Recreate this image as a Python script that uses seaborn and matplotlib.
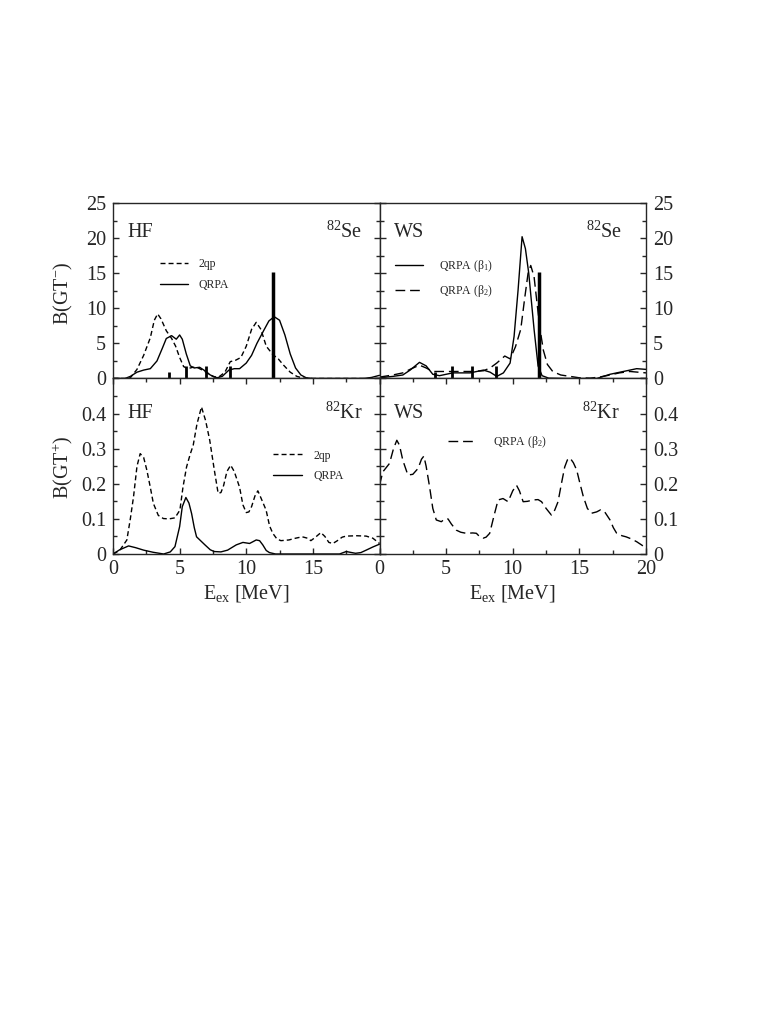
import matplotlib
matplotlib.use("Agg")
import matplotlib.pyplot as plt
from matplotlib.ticker import MultipleLocator
import seaborn as sns

# --- data -------------------------------------------------------------------
# HF, 82Se, B(GT-)
hf_se_2qp_x = [0, 1.0, 1.3, 1.8, 2.3, 2.8, 3.1, 3.35, 3.6, 4.0, 4.4, 4.7, 5.0, 5.3, 5.6, 6.0,
               6.4, 6.9, 7.3, 7.6, 8.0, 8.4, 8.8, 9.2, 9.6, 10.0, 10.4, 10.75, 11.1, 11.5,
               12.0, 12.4, 12.8, 13.3, 13.8, 14.3, 15.0, 20.0]
hf_se_2qp_y = [0, 0.0, 0.1, 1.3, 3.3, 5.8, 8.3, 9.2, 8.5, 6.8, 5.7, 4.6, 3.0, 1.7, 1.4, 1.6,
               1.5, 1.0, 0.5, 0.2, 0.3, 0.9, 2.4, 2.6, 3.0, 4.6, 7.0, 8.0, 7.0, 4.6,
               3.4, 2.8, 1.9, 0.9, 0.3, 0.05, 0, 0]
hf_se_qrpa_x = [0, 0.9, 1.3, 1.8, 2.3, 2.8, 3.3, 3.7, 4.0, 4.4, 4.75, 5.0, 5.2, 5.5, 5.8, 6.1,
                6.5, 6.9, 7.3, 7.8, 8.2, 8.7, 9.1, 9.5, 10.0, 10.4, 10.8, 11.3, 11.7, 12.1,
                12.5, 12.9, 13.3, 13.7, 14.1, 14.5, 15.0, 18.8, 19.4, 20.0]
hf_se_qrpa_y = [0, 0, 0.3, 0.9, 1.2, 1.4, 2.5, 4.3, 5.7, 6.1, 5.6, 6.2, 5.6, 3.5, 1.8, 1.5,
                1.6, 1.1, 0.5, 0.1, 0.3, 1.2, 1.4, 1.4, 2.2, 3.3, 5.0, 6.8, 8.2, 8.8,
                8.3, 6.2, 3.5, 1.5, 0.5, 0.1, 0, 0, 0.15, 0.45]

# experimental strength (bars)
exp_x = [4.2, 5.45, 6.95, 8.75, 12.0]
exp_y = [0.9, 1.8, 1.8, 1.8, 15.2]

# WS, 82Se, B(GT-)
ws_se_b1_x = [0, 1.0, 1.75, 2.3, 3.0, 3.5, 4.0, 4.5, 5.0, 5.5, 6.2, 6.8, 7.3, 7.8, 8.3, 8.8,
              9.3, 9.8, 10.1, 10.4, 10.7, 10.95, 11.2, 11.6, 11.9, 12.2, 12.7, 14.0, 16.3,
              17.3, 18.3, 19.3, 20.0]
ws_se_b1_y = [0.1, 0.3, 0.5, 1.2, 2.3, 1.8, 0.6, 0.4, 0.6, 0.8, 0.8, 0.8, 1.0, 1.2, 0.9, 0.3,
              0.8, 2.2, 6.0, 12.6, 20.2, 18.5, 15.0, 7.0, 1.8, 0.4, 0.05, 0, 0,
              0.6, 1.0, 1.4, 1.3]
ws_se_b2_x = [0, 1.0, 1.75, 2.4, 3.0, 3.5, 4.0, 5.3, 6.8, 7.8, 8.3, 8.8, 9.4, 9.8, 10.2, 10.6,
              10.9, 11.15, 11.35, 11.6, 11.8, 12.05, 12.3, 12.6, 13.0, 13.6, 14.3, 15.0,
              15.8, 16.5, 17.3, 18.0, 18.8, 19.4, 20.0]
ws_se_b2_y = [0.2, 0.5, 0.8, 1.4, 1.9, 1.5, 1.0, 1.0, 1.0, 1.1, 1.5, 2.2, 3.2, 2.8, 4.5, 7.0,
              11.5, 15.0, 16.1, 14.5, 11.1, 7.0, 4.0, 2.0, 1.0, 0.5, 0.3, 0.1,
              0.05, 0.2, 0.5, 0.8, 1.0, 0.9, 0.8]

# HF, 82Kr, B(GT+)
hf_kr_2qp_x = [0, 0.5, 1.04, 1.3, 1.54, 1.8, 2.04, 2.3, 2.54, 2.8, 3.03, 3.4, 3.78, 4.2, 4.65,
               5.02, 5.25, 5.52, 5.8, 6.02, 6.3, 6.64, 6.95, 7.26, 7.6, 7.89, 8.1, 8.3, 8.55,
               8.83, 9.1, 9.5, 9.75, 10.0, 10.2, 10.4, 10.65, 10.87, 11.1, 11.49, 11.75,
               11.99, 12.3, 12.6, 13.2, 13.7, 14.2, 14.6, 14.85, 15.2, 15.6, 15.9, 16.2,
               16.5, 16.8, 17.2, 17.5, 18.3, 19.0, 19.5, 20.0]
hf_kr_2qp_y = [0, 0.01, 0.04, 0.1, 0.163, 0.25, 0.286, 0.275, 0.239, 0.19, 0.144, 0.11, 0.101,
               0.1, 0.103, 0.125, 0.19, 0.248, 0.285, 0.31, 0.37, 0.419, 0.38, 0.324, 0.24,
               0.173, 0.175, 0.195, 0.235, 0.253, 0.235, 0.19, 0.14, 0.118, 0.12, 0.135,
               0.165, 0.18, 0.16, 0.125, 0.08, 0.059, 0.043, 0.038, 0.04, 0.045, 0.049,
               0.045, 0.038, 0.048, 0.061, 0.05, 0.033, 0.03, 0.037, 0.048, 0.051, 0.052,
               0.051, 0.045, 0.03]
hf_kr_qrpa_x = [0, 0.5, 1.17, 1.7, 2.3, 3.0, 3.8, 4.3, 4.65, 5.0, 5.2, 5.47, 5.7, 5.9, 6.1,
                6.27, 6.9, 7.3, 7.6, 8.1, 8.6, 9.25, 9.75, 10.25, 10.75, 11.0, 11.24, 11.5,
                11.74, 12.2, 17.0, 17.5, 18.2, 18.6, 19.0, 19.5, 20.0]
hf_kr_qrpa_y = [0, 0.012, 0.023, 0.018, 0.011, 0.005, 0.0, 0.006, 0.021, 0.078, 0.135, 0.161,
                0.145, 0.115, 0.075, 0.049, 0.026, 0.012, 0.007, 0.006, 0.011, 0.026, 0.033,
                0.03, 0.04, 0.038, 0.026, 0.01, 0.004, 0.0, 0.0, 0.007, 0.002, 0.004,
                0.011, 0.02, 0.028]

# WS, 82Kr, B(GT+)
ws_kr_b2_x = [0, 0.25, 0.75, 1.05, 1.3, 1.5, 1.75, 2.13, 2.5, 2.9, 3.15, 3.33, 3.5, 3.76, 4.0,
              4.26, 4.64, 4.9, 5.14, 5.4, 5.76, 6.1, 6.5, 7.0, 7.27, 7.5, 7.77, 8.0, 8.27,
              8.6, 8.9, 9.27, 9.65, 10.0, 10.28, 10.5, 10.78, 11.1, 11.53, 11.9, 12.16,
              12.5, 12.9, 13.15, 13.4, 13.65, 13.9, 14.1, 14.29, 14.55, 14.8, 15.05, 15.3,
              15.6, 15.9, 16.3, 16.6, 16.9, 17.3, 17.55, 17.8, 18.2, 18.5, 18.9, 19.3,
              19.7, 20.0]
ws_kr_b2_y = [0.196, 0.234, 0.258, 0.3, 0.324, 0.31, 0.267, 0.225, 0.227, 0.244, 0.27, 0.279,
              0.25, 0.191, 0.13, 0.097, 0.092, 0.1, 0.1, 0.085, 0.068, 0.062, 0.059, 0.06,
              0.059, 0.05, 0.045, 0.048, 0.059, 0.11, 0.154, 0.158, 0.149, 0.18, 0.196,
              0.18, 0.149, 0.15, 0.154, 0.155, 0.149, 0.13, 0.111, 0.125, 0.149, 0.2,
              0.248, 0.268, 0.274, 0.26, 0.239, 0.2, 0.163, 0.13, 0.116, 0.12, 0.126, 0.12,
              0.097, 0.075, 0.059, 0.052, 0.049, 0.043, 0.035, 0.025, 0.015]

# --- style -----------------------------------------------------------------
sns.set_style("ticks")
plt.rcParams["font.family"] = ["Liberation Serif", "DejaVu Serif"]
plt.rcParams["mathtext.fontset"] = "custom"
plt.rcParams["mathtext.rm"] = "Liberation Serif"
plt.rcParams["mathtext.it"] = "Liberation Serif:italic"
plt.rcParams["lines.scale_dashes"] = False
plt.rcParams["axes.linewidth"] = 1.0

SHORT = (0, (3.6, 2.2))   # 2qp dashes
LONG = (0, (7.0, 3.5))    # QRPA(beta2) dashes
LW = 1.0
FS = 14.5
LEG_FS = 8.5


def curve(ax, x, y, ls="-", label=None):
    sns.lineplot(x=x, y=y, ax=ax, color="k", lw=LW, linestyle=ls,
                 estimator=None, sort=False, label=label, legend=False)


def style_axis(ax, top_row, right_col):
    ax.set_xlim(0, 20)
    ax.xaxis.set_major_locator(MultipleLocator(5))
    ax.xaxis.set_minor_locator(MultipleLocator(2.5))
    if top_row:
        ax.set_ylim(0, 25)
        ax.yaxis.set_major_locator(MultipleLocator(5))
        ax.yaxis.set_minor_locator(MultipleLocator(2.5))
    else:
        ax.set_ylim(0, 0.5)
        ax.yaxis.set_major_locator(MultipleLocator(0.1))
        ax.yaxis.set_minor_locator(MultipleLocator(0.05))
    ax.tick_params(which="both", direction="in", top=not top_row, bottom=not top_row,
                   left=True, right=True, labelsize=FS, width=1.0,
                   labelleft=not right_col, labelright=right_col,
                   labelbottom=not top_row)
    ax.tick_params(axis="x", pad=4.5)
    ax.tick_params(axis="y", pad=5)
    ax.tick_params(which="major", length=4.0)
    ax.tick_params(which="minor", length=3.0)
    ax.set_xlabel("")
    ax.set_ylabel("")


fig, axes = plt.subplots(2, 2, figsize=(7.81, 10.11), dpi=100)
fig.subplots_adjust(left=113 / 781, right=646 / 781, top=1 - 203 / 1011,
                    bottom=1 - 554 / 1011, hspace=0, wspace=0)
ax_hf_se, ax_ws_se = axes[0]
ax_hf_kr, ax_ws_kr = axes[1]

# HF 82Se
curve(ax_hf_se, hf_se_2qp_x, hf_se_2qp_y, SHORT, "2qp")
curve(ax_hf_se, hf_se_qrpa_x, hf_se_qrpa_y, "-", "QRPA")
ax_hf_se.vlines(exp_x[:-1], 0, exp_y[:-1], color="k", lw=2.0)
ax_hf_se.vlines(exp_x[-1:], 0, exp_y[-1:], color="k", lw=2.5)

# WS 82Se
curve(ax_ws_se, ws_se_b1_x, ws_se_b1_y, "-", r"QRPA (β$_1$)")
curve(ax_ws_se, ws_se_b2_x, ws_se_b2_y, LONG, r"QRPA (β$_2$)")
ax_ws_se.vlines(exp_x[:-1], 0, exp_y[:-1], color="k", lw=2.0)
ax_ws_se.vlines(exp_x[-1:], 0, exp_y[-1:], color="k", lw=2.5)

# HF 82Kr
curve(ax_hf_kr, hf_kr_2qp_x, hf_kr_2qp_y, SHORT, "2qp")
curve(ax_hf_kr, hf_kr_qrpa_x, hf_kr_qrpa_y, "-", "QRPA")

# WS 82Kr
curve(ax_ws_kr, ws_kr_b2_x, ws_kr_b2_y, LONG, r"QRPA (β$_2$)")

style_axis(ax_hf_se, True, False)
style_axis(ax_ws_se, True, True)
style_axis(ax_hf_kr, False, False)
style_axis(ax_ws_kr, False, True)

# hide overlapping tick labels
ax_hf_kr.set_xticks([0, 5, 10, 15, 20])
ax_hf_kr.set_xticklabels(["0", "5", "10", "15", ""])
for ax in (ax_hf_kr, ax_ws_kr):
    ax.set_yticks([0, 0.1, 0.2, 0.3, 0.4, 0.5])
    ax.set_yticklabels(["0", "0.1", "0.2", "0.3", "0.4", ""])

# panel labels
for ax, left_txt, iso, xr, yc in [(ax_hf_se, "HF", "Se", 0.936, 0.834),
                                   (ax_ws_se, "WS", "Se", 0.909, 0.834),
                                   (ax_hf_kr, "HF", "Kr", 0.936, 0.80),
                                   (ax_ws_kr, "WS", "Kr", 0.903, 0.80)]:
    ax.text(0.056, yc, left_txt, transform=ax.transAxes, fontsize=FS,
            ha="left", va="center")
    ax.text(xr, yc, r"$^{82}$" + iso, transform=ax.transAxes, fontsize=FS,
            ha="right", va="center")

# legends
leg_kw = dict(frameon=False, fontsize=LEG_FS, borderpad=0, borderaxespad=0,
              loc="upper left", labelspacing=0.75)
ax_hf_se.legend(bbox_to_anchor=(0.176, 0.685), handlelength=2.4, handletextpad=0.9, **leg_kw)
ax_ws_se.legend(bbox_to_anchor=(0.06, 0.685), handlelength=2.3, handletextpad=1.4, **leg_kw)
ax_hf_kr.legend(bbox_to_anchor=(0.60, 0.595), handlelength=2.5, handletextpad=0.9, **leg_kw)
ax_ws_kr.legend(bbox_to_anchor=(0.256, 0.685), handlelength=2.45, handletextpad=1.4, **leg_kw)

# axis titles
fig.text(63 / 781, 1 - 293 / 1011, r"B(GT$^{-}$)", rotation=90, fontsize=FS,
         ha="center", va="center")
fig.text(63 / 781, 1 - 467 / 1011, r"B(GT$^{+}$)", rotation=90, fontsize=FS,
         ha="center", va="center")
fig.text(246 / 781, 1 - 598 / 1011, r"E$_{\rm ex}$ [MeV]", fontsize=FS,
         ha="center", va="baseline")
fig.text(512 / 781, 1 - 598 / 1011, r"E$_{\rm ex}$ [MeV]", fontsize=FS,
         ha="center", va="baseline")

fig.savefig("out.png", dpi=100)
